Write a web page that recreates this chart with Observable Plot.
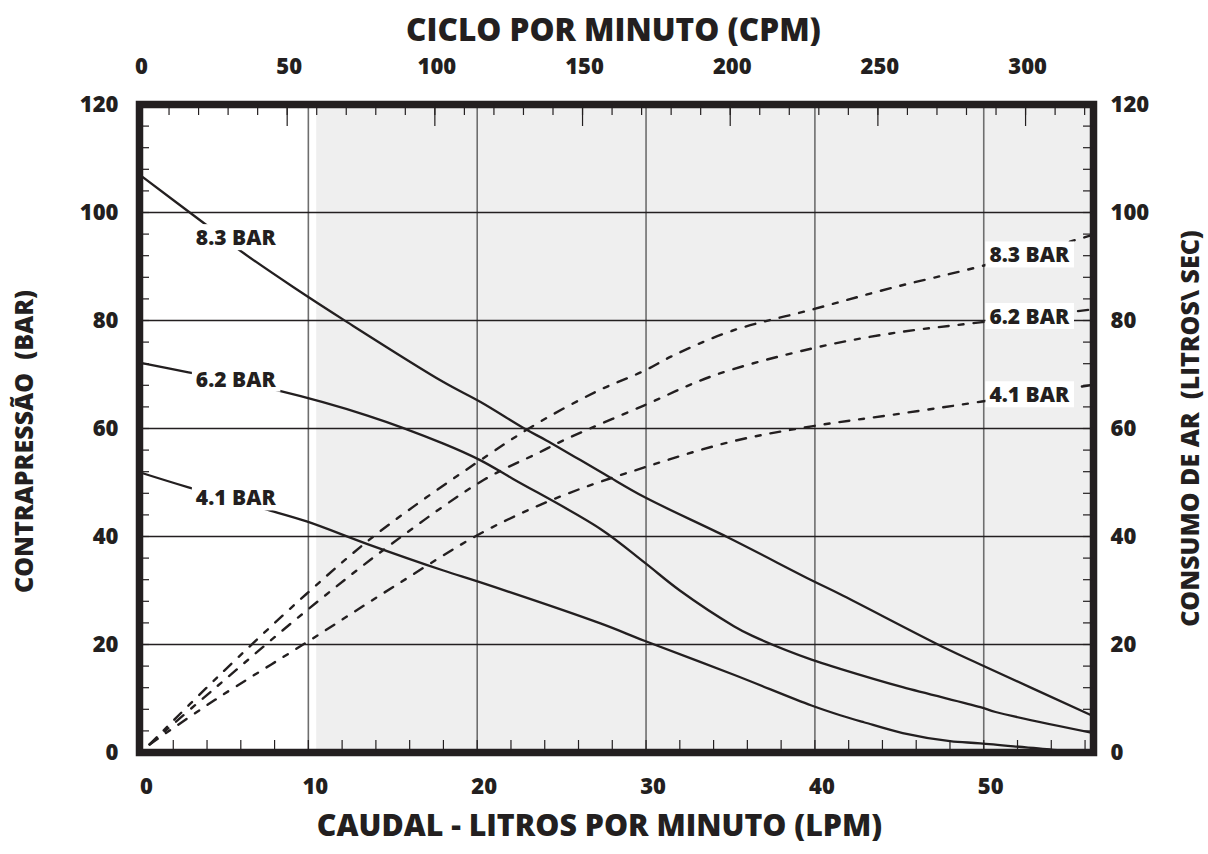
<!DOCTYPE html>
<html><head><meta charset="utf-8">
<script src="https://cdn.jsdelivr.net/npm/d3@7"></script>
<script src="https://cdn.jsdelivr.net/npm/@observablehq/plot@0.6"></script>
<style>body{margin:0;background:#fff}</style>
</head><body><div id="chart"></div>
<script>
// ---- data ----
const lpmTicks = [0, 10, 20, 30, 40, 50];
const cpmTicks = [0, 50, 100, 150, 200, 250, 300];
const yTicks = [0, 20, 40, 60, 80, 100, 120];
const X_MAX_LPM = 56.5;
const X_MAX_CPM = 323;
const SHADE_FROM_CPM = 60;
const curveNames = ["8.3 BAR", "6.2 BAR", "4.1 BAR"];

// back pressure (solid) [LPM, value]
const backPressure83 = [[0,107],[4.0,97.6],[6.2,92.4],[9.1,86.2],[12.3,79.7],[18.0,68.6],[20.2,64.9],[22.9,59.8],[24.1,57.8],[27.5,51.6],[29.9,47.3],[34.8,39.9],[39.8,31.9],[41.5,29.3],[47.8,19.2],[49.8,16.3],[56.5,6.7]];
const backPressure62 = [[0,72.2],[2.9,70.4],[8.0,67.2],[13.5,62.4],[18.0,57.2],[20.2,54.1],[22.1,50.7],[27.3,41.4],[29.9,35.2],[32.0,30.0],[35.2,23.4],[36.3,21.6],[39.8,17.2],[41.5,15.5],[45.2,12.1],[49.8,8.4],[50.7,7.5],[56.5,3.6]];
const backPressure41 = [[0,51.9],[2.9,49.1],[7.4,45.1],[9.9,42.8],[13.5,38.6],[18.0,33.7],[20.2,31.5],[27.3,23.9],[29.9,20.7],[35.2,14.4],[39.8,8.7],[41.5,6.9],[42.9,5.6],[45.2,3.6],[48.0,2.1],[49.8,1.7],[54.1,0.5],[56.5,0]];

// air consumption (dashed) [LPM, value]
const airUse83 = [[0.6,1.5],[4.5,13.6],[9.9,29.4],[14.1,40.6],[20.6,55.0],[23.7,61.2],[27.1,66.9],[29.9,70.7],[31.6,73.5],[35.1,78.1],[39.8,82.0],[44.5,86.0],[49.9,90.1],[56.3,95.7]];
const airUse62 = [[0.6,1.5],[4.5,12.0],[9.9,26.3],[15.0,38.8],[20.4,50.5],[23.7,55.6],[25.1,57.8],[29.9,64.3],[34.0,69.8],[39.8,74.8],[44.5,77.6],[49.9,79.7],[56.3,82.0]];
const airUse41 = [[0.6,1.5],[4.5,9.8],[9.9,20.4],[15.0,30.6],[20.4,40.9],[25.0,47.5],[29.9,52.8],[35.1,57.6],[39.8,60.4],[44.5,62.5],[49.9,65.0],[56.3,68.0]];

// curve label anchors [LPM, value]
const leftLabelPos = [[5.7, 95.2], [5.7, 69.0], [5.7, 47.0]];
const rightLabelPos = [[52.7, 92.0], [52.7, 80.6], [52.7, 66.1]];

const titleTop = "CICLO POR MINUTO (CPM)";
const titleBottom = "CAUDAL - LITROS POR MINUTO (LPM)";
const titleLeft = "CONTRAPRESSÃO\u00A0\u00A0(BAR)";
const titleRight = "CONSUMO DE AR\u00A0\u00A0(LITROS\\ SEC)";

// ---- chart ----
const ratio = X_MAX_CPM / X_MAX_LPM;
const INK = "#231f20";
const W = 1208, H = 854, ML = 139, MR = 115, MT = 104, MB = 102;
const PW = W - ML - MR, PH = H - MT - MB;
const FONT = "'Open Sans', sans-serif";
const WT = 800;

const yMinor = d3.range(4, 120, 4);
const xMinor = d3.range(2, X_MAX_LPM, 2);
const topMinor = d3.range(10, X_MAX_CPM, 10).map(c => c / ratio);
const topMajor = d3.range(50, X_MAX_CPM, 50).map(c => c / ratio);

const solid = [backPressure83, backPressure62, backPressure41];
const dashed = [airUse83, airUse62, airUse41];
const lbl = (pos) => pos.map((p, i) => ({x: p[0], y: p[1], t: curveNames[i]}));
const title = (s, o) => Plot.text([s], {text: d => d, textAnchor: "middle", lineAnchor: "middle", fontWeight: WT, fill: INK, ...o});

const svg = Plot.plot({
  width: W, height: H,
  marginLeft: ML, marginRight: MR, marginTop: MT, marginBottom: MB,
  x: {domain: [0, X_MAX_LPM]},
  y: {domain: [0, 120]},
  style: {fontFamily: FONT, color: INK, background: "white"},
  marks: [
    Plot.rect([0], {x1: () => SHADE_FROM_CPM / ratio, x2: () => X_MAX_LPM, y1: () => 0, y2: () => 120, fill: "#efefef"}),
    Plot.ruleX(lpmTicks.filter(d => d > 0), {x: d => d, stroke: "#6e6e6e", strokeWidth: 1.6}),
    Plot.ruleY(yTicks.filter(d => d > 0 && d < 120), {y: d => d, stroke: INK, strokeWidth: 1.3}),
    ...dashed.map(s => Plot.line(s, {x: d => d[0], y: d => d[1], stroke: INK, strokeWidth: 2.4, strokeDasharray: "10,10,5,10", curve: "catmull-rom"})),
    ...solid.map(s => Plot.line(s, {x: d => d[0], y: d => d[1], stroke: INK, strokeWidth: 2.3, curve: "catmull-rom"})),
    Plot.text(lbl(leftLabelPos), {x: "x", y: "y", text: "t", fontSize: 21, fontWeight: WT, fill: INK}),
    Plot.text(lbl(rightLabelPos), {x: "x", y: "y", text: "t", fontSize: 21, fontWeight: WT, fill: INK}),
    Plot.frame({stroke: INK, strokeWidth: 7.5}),
    Plot.ruleX(xMinor, {x: d => d, insetTop: PH - 12, stroke: INK, strokeWidth: 1.2}),
    Plot.ruleX(topMinor, {x: d => d, insetBottom: PH - 11, stroke: INK, strokeWidth: 1.2}),
    Plot.ruleX(topMajor, {x: d => d, insetBottom: PH - 22, stroke: INK, strokeWidth: 1.2}),
    Plot.ruleY(yMinor, {y: d => d, insetRight: PW - 10, stroke: INK, strokeWidth: 1.2}),
    Plot.ruleY(yMinor, {y: d => d, insetLeft: PW - 10, stroke: INK, strokeWidth: 1.2}),
    Plot.axisX(lpmTicks, {anchor: "bottom", tickSize: 0, tickPadding: 26, dx: 7, label: null, fontSize: 22, fontWeight: WT, fill: INK}),
    Plot.axisX(cpmTicks.map(c => c / ratio), {anchor: "top", tickSize: 0, tickPadding: 31, dx: 2, label: null, tickFormat: d => Math.round(d * ratio), fontSize: 22, fontWeight: WT, fill: INK}),
    Plot.axisY(yTicks, {anchor: "left", tickSize: 0, tickPadding: 21, label: null, fontSize: 22, fontWeight: WT, fill: INK}),
    Plot.axisY(yTicks, {anchor: "right", tickSize: 0, tickPadding: 17, label: null, fontSize: 22, fontWeight: WT, fill: INK}),
    title(titleTop, {frameAnchor: "top", dy: -74, dx: -3, fontSize: 31.5}),
    title(titleBottom, {frameAnchor: "bottom", dy: 74, dx: -17, fontSize: 30.3}),
    title(titleLeft, {frameAnchor: "left", rotate: -90, dx: -115, dy: 13, fontSize: 25}),
    title(titleRight, {frameAnchor: "right", rotate: -90, dx: 97, fontSize: 25})
  ]
});
document.getElementById("chart").append(svg);

// white boxes behind the curve labels (break the lines like the original)
svg.querySelectorAll("text").forEach(t => {
  if (!curveNames.includes(t.textContent.trim())) return;
  const b = t.getBBox();
  const r = document.createElementNS("http://www.w3.org/2000/svg", "rect");
  r.setAttribute("x", b.x - 4);
  r.setAttribute("y", b.y + 1);
  r.setAttribute("width", b.width + 8);
  r.setAttribute("height", b.height - 2);
  r.setAttribute("fill", "white");
  if (t.getAttribute("transform")) r.setAttribute("transform", t.getAttribute("transform"));
  t.parentNode.insertBefore(r, t);
});
</script>
</body></html>
